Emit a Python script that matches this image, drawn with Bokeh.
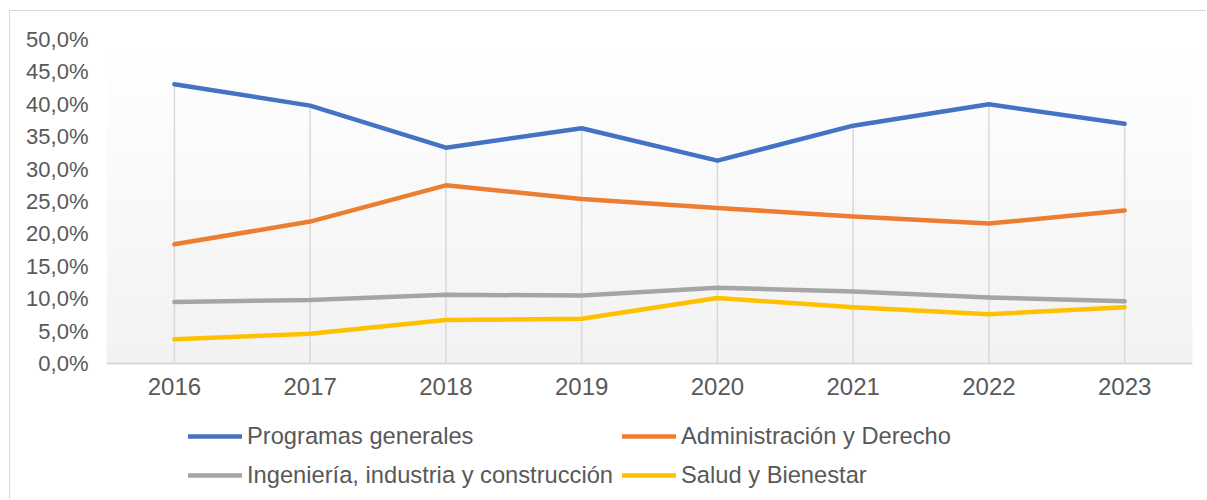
import numpy as np
from bokeh.plotting import figure
from bokeh.models import FixedTicker, Legend, LegendItem, LinearColorMapper, Span
from bokeh.core.properties import value
from bokeh.embed import file_html
from bokeh.resources import INLINE

# ---- data ----
years = [2016, 2017, 2018, 2019, 2020, 2021, 2022, 2023]
year_labels = ["2016", "2017", "2018", "2019", "2020", "2021", "2022", "2023"]
programas_generales = [43.1, 39.8, 33.3, 36.3, 31.3, 36.7, 40.0, 37.0]
administracion_derecho = [18.4, 21.9, 27.5, 25.4, 24.0, 22.7, 21.6, 23.6]
ingenieria = [9.5, 9.8, 10.6, 10.5, 11.7, 11.1, 10.2, 9.6]
salud_bienestar = [3.75, 4.6, 6.7, 6.9, 10.1, 8.7, 7.6, 8.7]
series_names = ["Programas generales", "Administración y Derecho",
                "Ingeniería, industria y construcción", "Salud y Bienestar"]
y_ticks = [0, 5, 10, 15, 20, 25, 30, 35, 40, 45, 50]
y_tick_labels = ["0,0%", "5,0%", "10,0%", "15,0%", "20,0%", "25,0%",
                 "30,0%", "35,0%", "40,0%", "45,0%", "50,0%"]

colors = ["#4472C4", "#ED7D31", "#A5A5A5", "#FFC000"]
FONT = "Liberation Sans"
TXT = "#595959"

# frame spans 50 (top) down below 0 so the category labels and legend sit inside it
p = figure(width=1197, height=489, output_backend="svg", toolbar_location=None,
           x_range=(years[0] - 0.5, years[-1] + 0.5), y_range=(-21.14, 50),
           min_border_left=96, min_border_right=15, min_border_top=28,
           min_border_bottom=0)
p.margin = (10, 0, 0, 9)
p.styles = {"border-top": "1px solid #d9d9d9", "border-left": "1px solid #d9d9d9"}
p.outline_line_color = None
p.background_fill_color = "white"
p.border_fill_color = "white"
p.xgrid.visible = False
p.ygrid.visible = False
p.xaxis.visible = False

# plot-area gradient (white at top -> light gray at bottom)
def _hex(v):
    return "#%02x%02x%02x" % (v, v, v)
pal = [_hex(int(round(255 - 13 * i / 255))) for i in range(256)]
mapper = LinearColorMapper(palette=pal, low=0, high=1)
grad = np.linspace(1, 0, 128).reshape(128, 1)
p.image(image=[grad], x=years[0] - 0.5, y=0, dw=len(years), dh=50,
        color_mapper=mapper, level="image")

# category axis line
p.add_layout(Span(location=0, dimension="width", line_color="#d9d9d9",
                  line_width=2))

# drop lines
tops = [max(v) for v in zip(programas_generales, administracion_derecho,
                            ingenieria, salud_bienestar)]
p.segment(x0=years, y0=[0] * len(years), x1=years, y1=tops,
          line_color="#d9d9d9", line_width=1.5)

renderers = []
for vals, c in zip([programas_generales, administracion_derecho, ingenieria,
                    salud_bienestar], colors):
    r = p.line(years, vals, line_color=c, line_width=4.5,
               line_cap="round", line_join="round")
    renderers.append(r)

# category labels
p.text(x=years, y=[0] * len(years), text=year_labels, y_offset=23,
       text_align="center", text_baseline="middle",
       text_font=value(FONT), text_font_size="24px", text_color=TXT)

ya = p.yaxis[0]
ya.ticker = FixedTicker(ticks=y_ticks)
ya.major_label_overrides = {t: l for t, l in zip(y_ticks, y_tick_labels)}
ya.axis_line_color = None
ya.major_tick_line_color = None
ya.minor_tick_line_color = None
ya.major_tick_out = 0
ya.minor_tick_out = 0
ya.major_label_text_font = FONT
ya.major_label_text_font_size = "22px"
ya.major_label_text_color = TXT
ya.major_label_standoff = 18

legend = Legend(items=[LegendItem(label=n, renderers=[r])
                       for n, r in zip(series_names, renderers)],
                location=(82, 10), orientation="horizontal", ncols=2,
                border_line_color=None, background_fill_alpha=0,
                padding=0, margin=0, spacing=9,
                glyph_width=54, glyph_height=30, label_height=30,
                label_standoff=5,
                label_text_font=FONT, label_text_font_size="23.7px",
                label_text_color=TXT)
p.add_layout(legend, "center")

open("out.html", "w").write(file_html(p, INLINE))
